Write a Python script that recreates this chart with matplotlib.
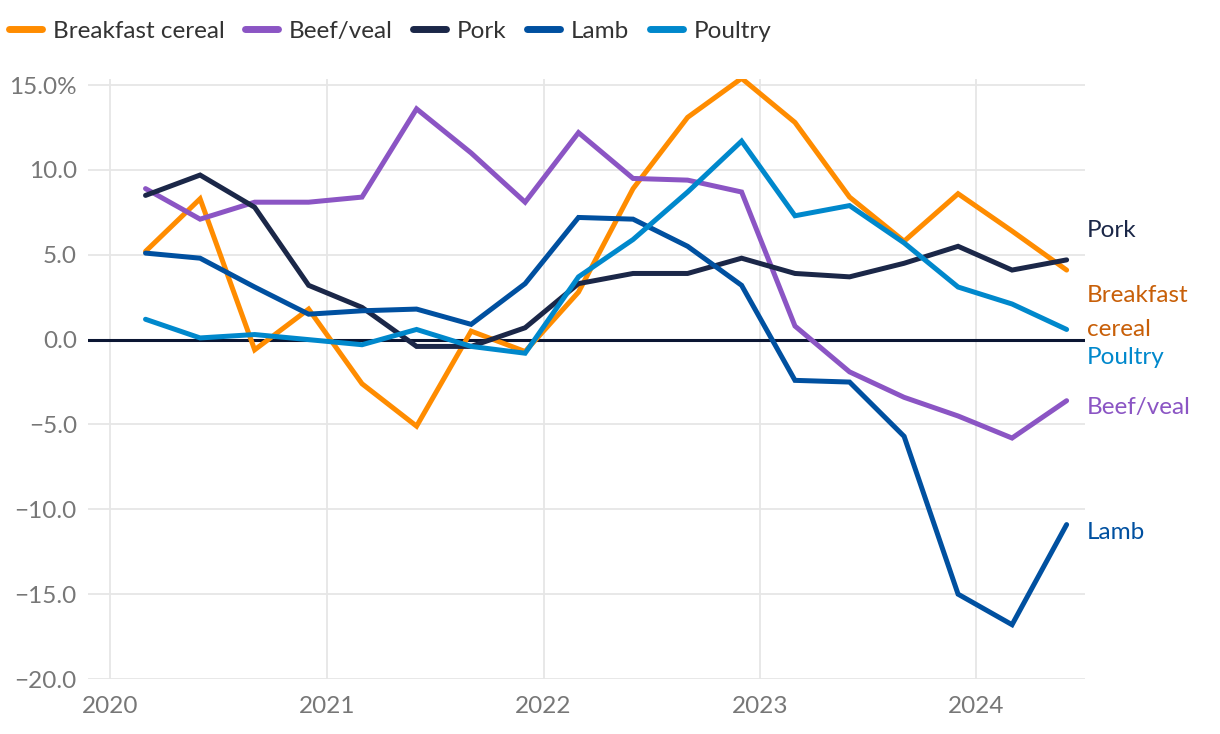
import matplotlib
matplotlib.use("Agg")
import matplotlib.pyplot as plt
import pandas as pd

dates = pd.date_range("2020-03-01", "2024-06-01", freq="3MS")

breakfast_cereal = [5.2, 8.3, -0.6, 1.8, -2.6, -5.1, 0.5, -0.7, 2.8, 8.9, 13.1, 15.4, 12.8, 8.4, 5.8, 8.6, 6.4, 4.1]
beef_veal = [8.9, 7.1, 8.1, 8.1, 8.4, 13.6, 11.0, 8.1, 12.2, 9.5, 9.4, 8.7, 0.8, -1.9, -3.4, -4.5, -5.8, -3.6]
pork = [8.5, 9.7, 7.8, 3.2, 1.9, -0.4, -0.4, 0.7, 3.3, 3.9, 3.9, 4.8, 3.9, 3.7, 4.5, 5.5, 4.1, 4.7]
lamb = [5.1, 4.8, 3.1, 1.5, 1.7, 1.8, 0.9, 3.3, 7.2, 7.1, 5.5, 3.2, -2.4, -2.5, -5.7, -15.0, -16.8, -10.9]
poultry = [1.2, 0.1, 0.3, 0.0, -0.3, 0.6, -0.4, -0.8, 3.7, 5.9, 8.7, 11.7, 7.3, 7.9, 5.7, 3.1, 2.1, 0.6]

series_names = ["Breakfast cereal", "Beef/veal", "Pork", "Lamb", "Poultry"]
series_values = [breakfast_cereal, beef_veal, pork, lamb, poultry]
colors = ["#ff8c00", "#8b55c4", "#1b2748", "#0050a0", "#0088cc"]

end_texts = ["Breakfast\ncereal", "Beef/veal", "Pork", "Lamb", "Poultry"]
end_colors = ["#c85f08", "#8b55c4", "#1b2748", "#0050a0", "#0088cc"]
end_positions = [1.6, -4.0, 6.45, -11.35, -1.05]

yticks = [15, 10, 5, 0, -5, -10, -15, -20]
ytick_labels = ["15.0%", "10.0", "5.0", "0.0", "\u22125.0", "\u221210.0", "\u221215.0", "\u221220.0"]
years = [2020, 2021, 2022, 2023, 2024]

plt.rcParams['font.family'] = ['Lato', 'DejaVu Sans']

fig = plt.figure(figsize=(12.2, 7.34), dpi=100)
ax = fig.add_axes([88/1220, 55/734, (1085-88)/1220, (679-79)/734])

for name, vals, c in zip(series_names, series_values, colors):
    ax.plot(dates, vals, color=c, lw=3.6, label=name, solid_capstyle="round",
            solid_joinstyle="miter", zorder=3)

ax.axhline(0, color="#0b1633", lw=2.2, zorder=2)

ax.set_ylim(-20, 15.36)
ax.set_xlim(pd.Timestamp("2019-11-25"), pd.Timestamp("2024-07-02"))
ax.set_yticks(yticks)
ax.set_yticklabels(ytick_labels)
ax.set_xticks([pd.Timestamp(f"{y}-01-01") for y in years])
ax.set_xticklabels([str(y) for y in years])
ax.grid(True, color="#e6e6e6", lw=1.3, zorder=0)
for s in ax.spines.values():
    s.set_visible(False)
ax.tick_params(axis="both", length=0, labelsize=17.5, colors="#777777")
ax.tick_params(axis="y", pad=8)
ax.tick_params(axis="x", pad=12)

for txt, c, yv in zip(end_texts, end_colors, end_positions):
    ax.annotate(txt, xy=(1.0, yv), xycoords=("axes fraction", "data"), xytext=(1.5, 0),
                textcoords="offset points", ha="left", va="center", fontsize=17.5,
                color=c, linespacing=1.8, annotation_clip=False)

leg = fig.legend(loc="center left", bbox_to_anchor=(9/1220, 1 - 31/734), ncol=5, frameon=False,
                 fontsize=17.5, handlelength=1.35, handletextpad=0.45, columnspacing=0.85,
                 borderaxespad=0, borderpad=0)
for t in leg.get_texts():
    t.set_color("#333333")
for h in leg.get_lines():
    h.set_linewidth(5)
    h.set_solid_capstyle("round")

fig.savefig("out.png", dpi=100)
